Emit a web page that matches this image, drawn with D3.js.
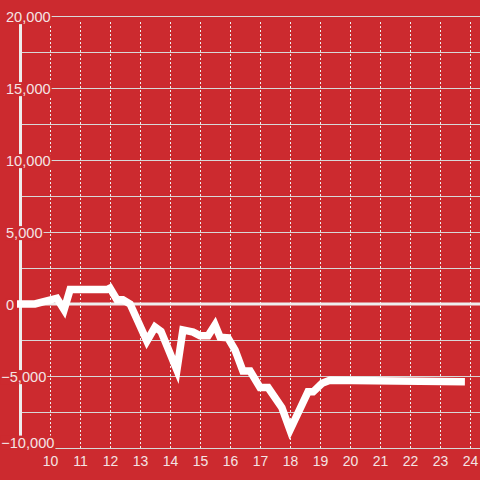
<!DOCTYPE html>
<html>
<head>
<meta charset="utf-8">
<script src="https://cdn.jsdelivr.net/npm/d3@7"></script>
<style>
  html, body { margin: 0; padding: 0; background: #cc2a2f; }
  svg { display: block; }
  text { font-family: "Liberation Sans", Arial, sans-serif; font-size: 14px; fill: #f4e4e4; }
  .ylab text { font-size: 14.6px; }
</style>
</head>
<body>
<div id="chart"></div>
<script>

// hours of the day and running value
var hours = [8.9, 9.5, 10.23, 10.47, 10.67, 11.9, 12.0, 12.23, 12.43, 12.67,
             13.23, 13.5, 13.7, 14.23, 14.43, 14.77, 15.0, 15.27, 15.5, 15.67,
             15.93, 16.17, 16.43, 16.67, 17.0, 17.27, 17.73, 18.0, 18.6, 18.77,
             19.07, 19.33, 23.83];
var values = [0, 0, 400, -400, 1000, 1000, 1100, 300, 300, 0,
              -2570, -1600, -1900, -4580, -1800, -1950, -2200, -2200, -1450, -2300,
              -2350, -3200, -4650, -4650, -5800, -5800, -7200, -8750, -6100, -6100,
              -5500, -5300, -5400];

var xTicks = [10, 11, 12, 13, 14, 15, 16, 17, 18, 19, 20, 21, 22, 23, 24];
var yTicks = [-10000, -7500, -5000, -2500, 0, 2500, 5000, 7500, 10000, 12500, 15000, 17500, 20000];

var width = 480, height = 480;
var bg = "#cc2a2f";

var x = d3.scaleLinear().domain([10, 24]).range([50, 470]);
var y = d3.scaleLinear().domain([-10000, 20000]).range([448, 16]);

var svg = d3.select("#chart").append("svg")
    .attr("width", width)
    .attr("height", height);

svg.append("rect")
    .attr("width", width)
    .attr("height", height)
    .attr("fill", bg);

var axisX = 21;

// horizontal grid
var yGrid = svg.append("g")
    .attr("transform", "translate(" + axisX + ",0)")
    .call(d3.axisLeft(y).tickValues(yTicks).tickSize(-(width - axisX)).tickFormat(""));
yGrid.select(".domain").remove();
yGrid.selectAll(".tick line")
    .attr("stroke", "#d8d8d8")
    .attr("stroke-width", 1);

// vertical dotted grid
var xGrid = svg.append("g")
    .attr("transform", "translate(0," + y(-10000) + ")")
    .call(d3.axisBottom(x).tickValues(xTicks).tickSize(-(y(-10000) - 22)).tickFormat(""));
xGrid.select(".domain").remove();
xGrid.selectAll(".tick line")
    .attr("stroke", "#eeeeee")
    .attr("stroke-width", 1)
    .attr("stroke-dasharray", "2,2");

// zero line
svg.append("line")
    .attr("x1", axisX).attr("x2", width)
    .attr("y1", y(0)).attr("y2", y(0))
    .attr("stroke", "#eeeeee")
    .attr("stroke-width", 3);

// y axis bar
svg.append("line")
    .attr("x1", axisX - 0.5).attr("x2", axisX - 0.5)
    .attr("y1", y(20000)).attr("y2", y(-10000))
    .attr("stroke", "#eeeeee")
    .attr("stroke-width", 3);

// y labels with a background patch
var yLab = svg.append("g")
    .attr("class", "ylab")
    .attr("transform", "translate(" + axisX + ",0)")
    .call(d3.axisLeft(y).tickValues(yTicks.filter(function (d) { return d % 5000 === 0; }))
        .tickSize(0)
        .tickFormat(d3.format(",")));
yLab.select(".domain").remove();
yLab.attr("font-size", null).attr("font-family", null);
yLab.selectAll("text")
    .attr("x", 6 - axisX)
    .attr("dy", "0.35em")
    .attr("y", function (d) { return d === -10000 ? -6 : 0.5; })
    .attr("text-anchor", "start")
    .attr("fill", null)
    .attr("dx", function (d) { return d < 0 ? -4.8 : 0; });
yLab.selectAll(".tick").each(function () {
    var t = d3.select(this).select("text");
    var b = t.node().getBBox();
    d3.select(this).insert("rect", "text")
        .attr("x", b.x - 1)
        .attr("y", b.y + 1)
        .attr("width", b.width + 2)
        .attr("height", b.height - 2)
        .attr("fill", bg);
});

// x labels
var xLab = svg.append("g")
    .attr("transform", "translate(0," + y(-10000) + ")")
    .call(d3.axisBottom(x).tickValues(xTicks).tickSize(0));
xLab.select(".domain").remove();
xLab.attr("font-size", null).attr("font-family", null);
xLab.selectAll("text")
    .attr("y", 8)
    .attr("fill", null);

// the line
var pts = hours.map(function (h, i) { return [h, values[i]]; });
svg.append("path")
    .datum(pts)
    .attr("fill", "none")
    .attr("stroke", "#ffffff")
    .attr("stroke-width", 7.5)
    .attr("d", d3.line()
        .x(function (d) { return x(d[0]); })
        .y(function (d) { return y(d[1]); }));

</script>
</body>
</html>
